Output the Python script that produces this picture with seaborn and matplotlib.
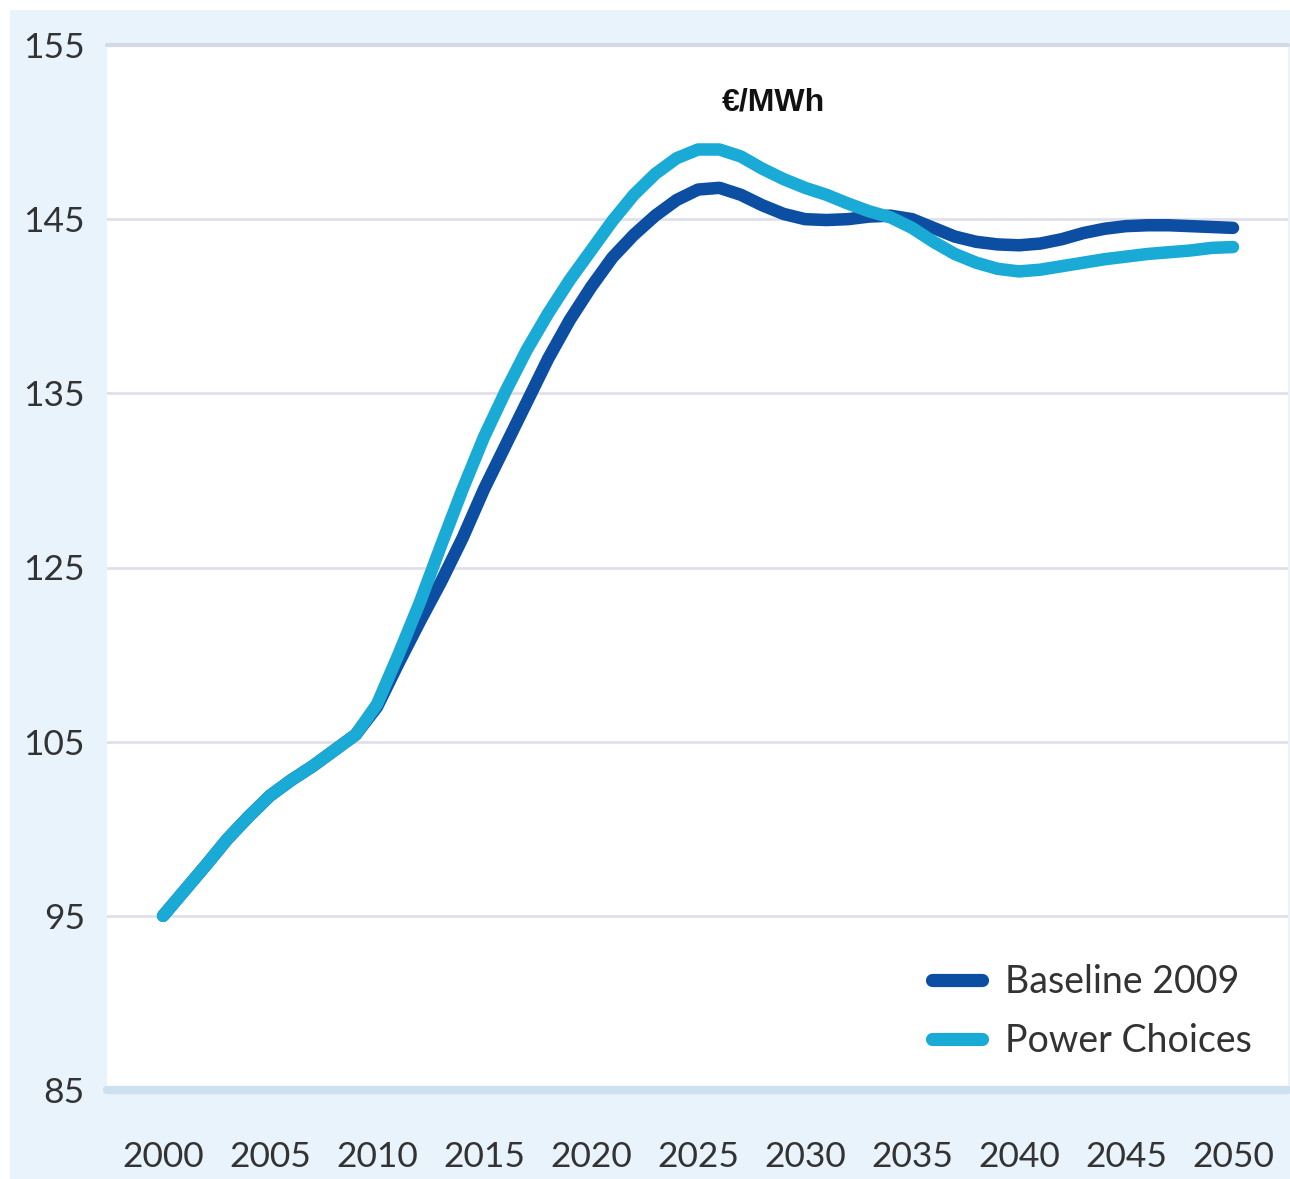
import numpy as np
import pandas as pd
import matplotlib.pyplot as plt
import seaborn as sns
from matplotlib.patches import Rectangle

# data (€/MWh)
years = list(range(2000, 2051))
baseline = [95.0, 96.45, 97.9, 99.4, 100.7, 101.9, 102.8, 103.6, 104.5, 105.8,
            109.0, 114.0, 118.8, 123.4, 126.7, 129.5, 132.0, 134.5, 137.0, 139.2,
            141.1, 142.8, 144.1, 145.2, 146.1, 146.7, 146.8, 146.4, 145.8, 145.3,
            145.0, 144.95, 145.0, 145.15, 145.2, 145.0, 144.5, 144.0, 143.7, 143.55,
            143.5, 143.6, 143.85, 144.2, 144.45, 144.6, 144.65, 144.65, 144.6, 144.55,
            144.5]
power_choices = [95.0, 96.45, 97.9, 99.4, 100.7, 101.9, 102.8, 103.6, 104.5, 105.8,
                 109.3, 115.0, 121.0, 126.3, 129.5, 132.5, 135.1, 137.5, 139.6, 141.5,
                 143.2, 144.9, 146.4, 147.6, 148.5, 149.0, 149.0, 148.6, 147.9, 147.3,
                 146.8, 146.4, 145.9, 145.45, 145.1, 144.5, 143.7, 143.0, 142.5, 142.15,
                 142.0, 142.1, 142.3, 142.5, 142.7, 142.85, 143.0, 143.1, 143.2, 143.35,
                 143.4]
series_names = ["Baseline 2009", "Power Choices"]
y_ticks = [85, 95, 105, 125, 135, 145, 155]
x_ticks = list(range(2000, 2051, 5))

df = pd.DataFrame({
    "year": years * 2,
    "value": baseline + power_choices,
    "scenario": [series_names[0]] * len(years) + [series_names[1]] * len(years),
})

sns.set_style("white")
plt.rcParams["font.family"] = ["Lato", "DejaVu Sans"]

fig = plt.figure(figsize=(12.9, 11.79), dpi=100, facecolor="white")
fig.patches.append(Rectangle((10 / 1290, 0), 1, 1 - 10 / 1179, transform=fig.transFigure,
                             facecolor="#e8f3fb", edgecolor="none", zorder=-10))
ax = fig.add_axes([107 / 1290, 1 - 1090 / 1179, 1181 / 1290, 1045 / 1179])
ax.set_facecolor("white")

palette = {series_names[0]: "#0c4ea2", series_names[1]: "#1aaad6"}
sns.lineplot(data=df, x="year", y="value", hue="scenario", hue_order=series_names,
             palette=palette, linewidth=9, ax=ax, solid_capstyle="round",
             solid_joinstyle="round")

# y axis labels are evenly spaced even though the values are not
pos = np.arange(len(y_ticks), dtype=float)
ax.set_yscale("function", functions=(lambda v: np.interp(v, y_ticks, pos),
                                     lambda p: np.interp(p, pos, y_ticks)))
ax.set_ylim(85, 155)
ax.set_xlim(1997.38, 2052.57)
ax.set_yticks(y_ticks)
ax.set_yticklabels([str(t) for t in y_ticks])
ax.set_xticks(x_ticks)
ax.set_xticklabels([str(t) for t in x_ticks])
ax.tick_params(axis="both", length=0, labelsize=25.5, colors="#333333")
ax.tick_params(axis="y", pad=16)
ax.tick_params(axis="x", pad=37)
ax.set_xlabel("")
ax.set_ylabel("")
for s in ax.spines.values():
    s.set_visible(False)

for t in y_ticks[1:-1]:
    ax.axhline(t, color="#e0e0ec", linewidth=2, zorder=0)
ax.axhline(155, color="#d3d9e6", linewidth=3, zorder=0, clip_on=False)
ax.axhline(85, color="#cde0ef", linewidth=6, zorder=0, clip_on=False)

ax.text(0.564, 0.9445, "€/MWh", transform=ax.transAxes, ha="center", va="center",
        fontsize=23, fontweight="bold", family=["Liberation Sans", "DejaVu Sans"], color="#111111")

handles, labels = ax.get_legend_handles_labels()
leg = ax.legend(handles, labels, loc="lower right", bbox_to_anchor=(0.985, 0.012),
                frameon=False, fontsize=27, handlelength=1.35, handletextpad=0.6,
                labelspacing=0.6, borderpad=0)
for h in leg.get_lines():
    h.set_linewidth(9.5)
    h.set_solid_capstyle("round")
for t in leg.get_texts():
    t.set_color("#333333")

fig.savefig("out.png", dpi=100, facecolor=fig.get_facecolor())
